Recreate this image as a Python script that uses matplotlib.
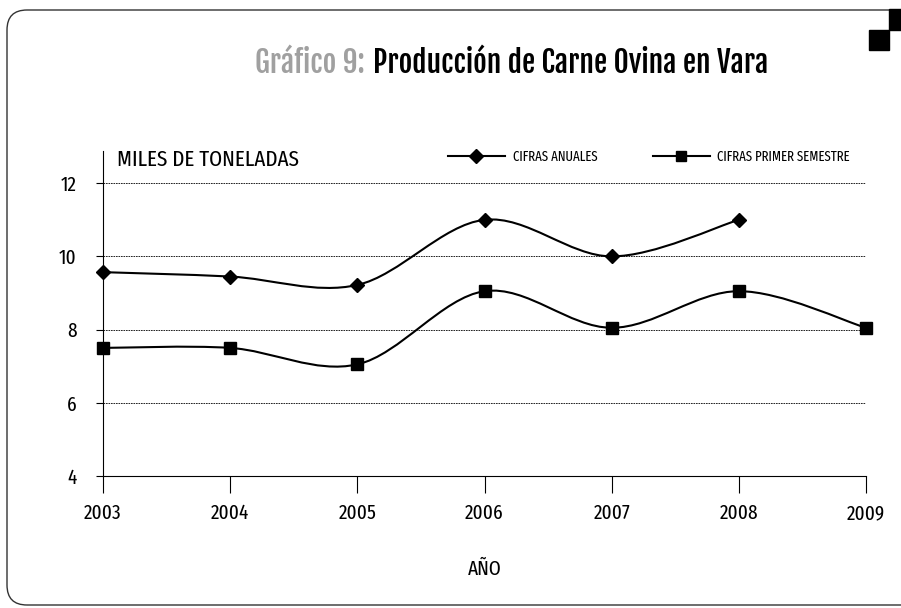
import matplotlib
matplotlib.use('Agg')
import matplotlib.pyplot as plt
from matplotlib.path import Path
from matplotlib.patches import PathPatch, FancyBboxPatch, Rectangle
from matplotlib.lines import Line2D

# datos
anios = [2003, 2004, 2005, 2006, 2007, 2008, 2009]
anuales_x = [2003, 2004, 2005, 2006, 2007, 2008]
anuales = [9.57, 9.45, 9.22, 11.0, 10.0, 11.0]
semestre_x = [2003, 2004, 2005, 2006, 2007, 2008, 2009]
semestre = [7.5, 7.5, 7.05, 9.05, 8.05, 9.05, 8.05]
yticks = [4, 6, 8, 10, 12]

plt.rcParams['font.family'] = ['Fira Sans Extra Condensed', 'Roboto Condensed', 'DejaVu Sans']
titulo_fuente = ['Fjalla One', 'Fira Sans Extra Condensed', 'DejaVu Sans']


def curva_suave(xs, ys):
    # curva suavizada tipo Excel: bezier con puntos de control a 1/6
    pts = list(zip(xs, ys))
    verts = [pts[0]]
    codes = [Path.MOVETO]
    n = len(pts)
    for i in range(n - 1):
        p0 = pts[i - 1] if i > 0 else pts[i]
        p1 = pts[i]
        p2 = pts[i + 1]
        p3 = pts[i + 2] if i + 2 < n else pts[i + 1]
        c1 = (p1[0] + (p2[0] - p0[0]) / 6, p1[1] + (p2[1] - p0[1]) / 6)
        c2 = (p2[0] - (p3[0] - p1[0]) / 6, p2[1] - (p3[1] - p1[1]) / 6)
        verts += [c1, c2, p2]
        codes += [Path.CURVE4] * 3
    return Path(verts, codes)


W, H = 901, 608
fig = plt.figure(figsize=(W / 100, H / 100), dpi=100)
ax = fig.add_axes([103 / W, 1 - 476 / H, (866 - 103) / W, (476 - 151) / H])

# marco redondeado y cuadros negros
fig.patches.append(FancyBboxPatch((0.07, 0.03), 9.6, 5.95, boxstyle='round,pad=0,rounding_size=0.2',
                                  transform=fig.dpi_scale_trans, fill=False, lw=1.0, ec='#333333'))
fig.patches.append(Rectangle((8.89, 5.78), 0.2, 0.21, transform=fig.dpi_scale_trans, color='black'))
fig.patches.append(Rectangle((8.69, 5.58), 0.2, 0.2, transform=fig.dpi_scale_trans, color='black'))

for y in yticks[1:]:
    ax.axhline(y, color='black', lw=0.6, ls=(0, (2, 1)), zorder=1)

ax.add_patch(PathPatch(curva_suave(anuales_x, anuales), fill=False, lw=1.5, ec='black', zorder=3))
ax.add_patch(PathPatch(curva_suave(semestre_x, semestre), fill=False, lw=1.5, ec='black', zorder=3))
ax.plot(anuales_x, anuales, ls='none', marker='D', ms=6.8, mew=1, color='black', zorder=4, clip_on=False)
ax.plot(semestre_x, semestre, ls='none', marker='s', ms=8.5, mew=1, color='black', zorder=4, clip_on=False)

ax.set_xlim(2003, 2009)
ax.set_ylim(4, 12.88)
ax.set_xticks(anios)
ax.set_yticks(yticks)
ax.tick_params(axis='x', direction='out', length=12, width=0.8, labelsize=15, pad=8)
ax.tick_params(axis='y', direction='out', length=5, width=0.8, labelsize=15, pad=14)
for s in ['top', 'right']:
    ax.spines[s].set_visible(False)
ax.spines['left'].set_linewidth(0.8)
ax.spines['bottom'].set_linewidth(0.8)
ax.set_facecolor('none')

ax.set_xlabel('AÑO', fontsize=15, labelpad=26)

manejadores = [Line2D([], [], color='black', lw=1.5, marker='D', ms=7),
               Line2D([], [], color='black', lw=1.5, marker='s', ms=7.5)]
fig.legend(manejadores, ['CIFRAS ANUALES', 'CIFRAS PRIMER SEMESTRE'], ncol=2, frameon=False,
           fontsize=10, handlelength=4.1, handletextpad=0.55, columnspacing=4.0,
           borderpad=0, borderaxespad=0, loc='center left',
           bbox_to_anchor=(448 / W, 1 - 157 / H))

miles = fig.text(117 / W, 1 - 160 / H, 'MILES DE TONELADAS', fontsize=16, va='center', ha='left')

# titulo en dos colores, ajustado al ancho del original
t1 = fig.text(265 / W, 1 - 73 / H, 'Gráfico 9:', fontsize=24, color='#a0a0a0',
              va='baseline', ha='left', family=titulo_fuente)
t2 = fig.text(373 / W, 1 - 73 / H, 'Producción de Carne Ovina en Vara', fontsize=24,
              color='black', va='baseline', ha='left', family=titulo_fuente)
fig.canvas.draw()
r = fig.canvas.get_renderer()
escala = (768 - 373) / t2.get_window_extent(r).width
t1.set_fontsize(24 * escala)
t2.set_fontsize(24 * escala)
miles.set_fontsize(16 * (300 - 117) / miles.get_window_extent(r).width)
fig.canvas.draw()
ancho1 = t1.get_window_extent(r).width
t1.set_x((373 - 8 - ancho1) / W)

fig.savefig('out.png', dpi=100)
